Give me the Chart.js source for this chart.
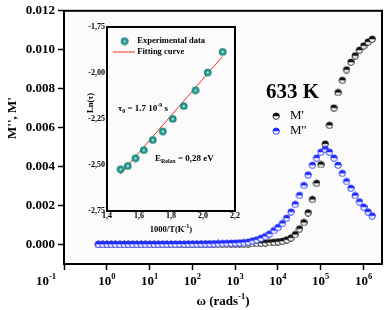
<!DOCTYPE html>
<html><head><meta charset="utf-8">
<script src="https://cdn.jsdelivr.net/npm/chart.js@4.4.1/dist/chart.umd.min.js"></script>
<style>
html,body{margin:0;padding:0;background:#fff;}
#wrap{position:relative;width:387px;height:310px;overflow:hidden;}
#main{position:absolute;left:0;top:0;}
#inset{position:absolute;left:70px;top:20px;}
</style></head><body>
<div id="wrap"><canvas id="main" width="387" height="310"></canvas><canvas id="inset" width="172" height="215"></canvas></div>
<script>
// ---------- main chart data ----------
const freq = [0.631,0.794,1,1.26,1.58,2.0,2.51,3.16,3.98,5.01,6.31,7.94,
  10,12.6,15.8,20,25.1,31.6,39.8,50.1,63.1,79.4,
  100,126,158,200,251,316,398,501,631,794,
  1000,1260,1580,2000,2510,3160,3980,5010,6310,7940,
  10000,12600,15800,20000,25100,31600,39800,50100,63100,79400,
  100000,126000,158000,200000,251000,316000,398000,501000,631000,794000,
  1000000,1260000,1580000];
const mPrime = [0.000005,0.000005,0.000005,0.000005,0.000005,0.000005,0.000005,0.000005,0.000005,0.000005,0.000005,0.000005,
  0.000006,0.000006,0.000007,0.000007,0.000008,0.000008,0.000009,0.00001,0.00001,0.000011,
  0.000012,0.000013,0.000014,0.000015,0.000017,0.000019,0.000021,0.000024,0.000027,0.00003,
  0.000034,0.000038,0.000043,0.00005,0.000057,0.000066,0.000077,0.00009,0.000105,0.000125,0.00015,
  0.00018,0.00025,0.00035,0.00052,0.00081,0.00114,0.00164,0.00232,0.00315,0.00411,0.00517,
  0.00613,0.00702,0.00781,0.00844,0.00898,0.00937,0.00970,0.00999,0.01021,0.01041,0.01055];
const mDouble = [0.00002,0.00002,0.00002,0.00002,0.00002,0.00002,0.00002,0.00002,0.00002,0.00002,0.00002,0.00002,
  0.00002,0.000021,0.000022,0.000023,0.000024,0.000025,0.000026,0.000028,0.00003,0.000032,
  0.000034,0.000036,0.000039,0.000042,0.000045,0.000049,0.000054,0.00006,0.000067,0.000075,
  0.000085,0.000097,0.00011,
  0.00013,0.00020,0.00025,0.00033,0.00042,0.00055,0.00072,0.00089,0.00109,0.00136,
  0.00168,0.00207,0.00253,0.00304,0.00358,0.00408,0.00445,0.00475,0.00489,0.00475,
  0.00445,0.00408,0.00366,0.00324,0.00290,0.00252,0.00220,0.00193,0.00168,0.00148];
const xTickValues = [0.1,1,10,100,1000,10000,100000,1000000];
const xTickExps = ['-1','0','1','2','3','4','5','6'];
const yTickValues = [0,0.002,0.004,0.006,0.008,0.010,0.012];
const seriesNames = ["M'", "M''"];

// ---------- inset data ----------
const invT = [1.483,1.528,1.576,1.628,1.684,1.747,1.809,1.878,1.951,2.027,2.121];
const lnTau = [-2.522,-2.504,-2.462,-2.418,-2.363,-2.316,-2.248,-2.179,-2.093,-1.996,-1.884];
const fitX = [1.483,2.121];
const fitY = [-2.549,-1.911];
const insetXTicks = [1.4,1.6,1.8,2.0,2.2];
const insetYTicks = [-2.75,-2.5,-2.25,-2.0,-1.75];

const SERIF = "'Liberation Serif','Times New Roman',serif";

function halfMarker(color, r){
  const c = document.createElement('canvas');
  const s = 2*r+2; c.width = s; c.height = s;
  const g = c.getContext('2d'); const m = s/2;
  g.beginPath(); g.arc(m,m,r,0,Math.PI*2); g.fillStyle='#fff'; g.fill();
  g.beginPath(); g.arc(m,m,r,Math.PI,0); g.closePath(); g.fillStyle=color; g.fill();
  g.beginPath(); g.arc(m,m,r,0,Math.PI*2); g.lineWidth=0.9; g.strokeStyle=color; g.stroke();
  return c;
}
function tealMarker(r){
  const c = document.createElement('canvas');
  const s = 2*r+2; c.width = s; c.height = s;
  const g = c.getContext('2d'); const m = s/2;
  const gr = g.createRadialGradient(m,m,0.3,m,m,r);
  gr.addColorStop(0,'#e8fff8'); gr.addColorStop(0.3,'#36a99c'); gr.addColorStop(1,'#0a766e');
  g.beginPath(); g.arc(m,m,r,0,Math.PI*2); g.fillStyle=gr; g.fill();
  return c;
}
const mkBlack = halfMarker('#111', 3.2);
const mkBlue = halfMarker('#1f2cff', 3.2);
const mkTeal = tealMarker(3.8);

function drawRich(ctx, parts, x, y, align){
  let w = 0;
  parts.forEach(p=>{ctx.font=p.f; p.w=ctx.measureText(p.t).width; w+=p.w;});
  let cx = align==='center' ? x-w/2 : (align==='right'? x-w : x);
  ctx.textAlign='left';
  parts.forEach(p=>{ctx.font=p.f; ctx.fillText(p.t, cx, y+(p.dy||0)); cx+=p.w;});
}

const mainPlugin = {
  id:'mainDeco',
  beforeDraw(chart){
    const a = chart.chartArea, ctx = chart.ctx;
    ctx.save(); ctx.fillStyle='#fbfbfb'; ctx.fillRect(a.left,a.top,a.right-a.left,a.bottom-a.top); ctx.restore();
  },
  afterDraw(chart){
    const a = chart.chartArea, ctx = chart.ctx, xs = chart.scales.x;
    ctx.save();
    ctx.strokeStyle='#000'; ctx.lineWidth=2;
    ctx.strokeRect(a.left,a.top,a.right-a.left,a.bottom-a.top);
    ctx.fillStyle='#000'; ctx.textBaseline='alphabetic';
    const fB = "bold 13px "+SERIF, fS = "bold 8.5px "+SERIF;
    xTickValues.forEach((v,i)=>{
      let px = xs.getPixelForValue(v);
      if(i===0) px -= 18;
      drawRich(ctx,[{t:'10',f:fB},{t:xTickExps[i],f:fS,dy:-6}],px,285,'center');
    });
    drawRich(ctx,[{t:'ω (rads',f:fB},{t:'-1',f:fS,dy:-6},{t:')',f:fB}],(a.left+a.right)/2,305,'center');
    ctx.save(); ctx.translate(16,118); ctx.rotate(-Math.PI/2);
    ctx.font=fB; ctx.textAlign='center'; ctx.fillText("M'', M'",0,0); ctx.restore();
    ctx.font="bold 21px "+SERIF; ctx.textAlign='left'; ctx.fillText('633 K',266,98);
    ctx.drawImage(mkBlack,276-mkBlack.width/2,116-mkBlack.height/2);
    ctx.drawImage(mkBlue,276-mkBlue.width/2,131-mkBlue.height/2);
    ctx.font="13px "+SERIF; ctx.textBaseline='middle';
    ctx.fillText(seriesNames[0],290,116); ctx.fillText(seriesNames[1],290,131);
    ctx.restore();
  }
};

new Chart(document.getElementById('main'),{
  type:'scatter',
  data:{datasets:[
    {label:seriesNames[0],data:freq.map((f,i)=>({x:f,y:mPrime[i]})),pointStyle:mkBlack,order:1},
    {label:seriesNames[1],data:freq.map((f,i)=>({x:f,y:mDouble[i]})),pointStyle:mkBlue,order:0}
  ]},
  options:{
    responsive:false,devicePixelRatio:1,animation:false,
    layout:{padding:{top:5,right:5,left:0,bottom:0}},
    plugins:{legend:{display:false},tooltip:{enabled:false}},
    scales:{
      x:{type:'logarithmic',min:0.1,max:2.7e6,
        afterBuildTicks:s=>{s.ticks=xTickValues.map(v=>({value:v}));},
        afterFit:s=>{s.height=46;},
        ticks:{display:false},
        grid:{drawOnChartArea:false,drawTicks:true,tickLength:6,tickWidth:1.5,tickColor:'#000'},
        border:{display:true,color:'#000',width:2}},
      y:{type:'linear',min:-0.001,max:0.012,
        afterBuildTicks:s=>{s.ticks=yTickValues.map(v=>({value:v}));},
        afterFit:s=>{s.width=64;},
        ticks:{color:'#000',padding:3,font:{family:SERIF,weight:'bold',size:13},callback:v=>v.toFixed(3)},
        grid:{drawOnChartArea:false,drawTicks:true,tickLength:6,tickWidth:1.5,tickColor:'#000'},
        border:{display:true,color:'#000',width:2}}
    }
  },
  plugins:[mainPlugin]
});

// ---------- inset ----------
const insetPlugin = {
  id:'insetDeco',
  beforeDraw(chart){
    const a = chart.chartArea, ctx = chart.ctx;
    ctx.save(); ctx.fillStyle='#fbfbfb'; ctx.fillRect(a.left,a.top,a.right-a.left,a.bottom-a.top); ctx.restore();
  },
  afterDraw(chart){
    const a = chart.chartArea, ctx = chart.ctx;
    const ox = 70, oy = 20;
    ctx.save();
    ctx.strokeStyle='#000'; ctx.lineWidth=2;
    ctx.strokeRect(a.left,a.top,a.right-a.left,a.bottom-a.top);
    ctx.fillStyle='#000'; ctx.textBaseline='alphabetic';
    const f = "bold 8.5px "+SERIF, fs = "bold 6px "+SERIF;
    drawRich(ctx,[{t:'1000/T(K',f:f},{t:'-1',f:fs,dy:-4},{t:')',f:f}],(a.left+a.right)/2,232-oy,'center');
    ctx.save(); ctx.translate(93-ox,103-oy); ctx.rotate(-Math.PI/2);
    ctx.font=f; ctx.textAlign='center'; ctx.fillText('Ln(τ)',0,0); ctx.restore();
    ctx.drawImage(mkTeal,124.3-ox-mkTeal.width/2,41-oy-mkTeal.height/2);
    ctx.strokeStyle='#f0302a'; ctx.lineWidth=1;
    ctx.beginPath(); ctx.moveTo(112.7-ox,52-oy); ctx.lineTo(135-ox,52-oy); ctx.stroke();
    ctx.font=f; ctx.textBaseline='middle'; ctx.textAlign='left';
    ctx.fillText('Experimental data',137.3-ox,41-oy);
    ctx.fillText('Fitting curve',137.3-ox,52-oy);
    ctx.textBaseline='alphabetic';
    const f9 = "bold 9px "+SERIF, f6 = "bold 6px "+SERIF;
    drawRich(ctx,[{t:'τ',f:f9},{t:'0',f:f6,dy:2},{t:' = 1.7 10',f:f9},{t:'-9',f:f6,dy:-4},{t:' s',f:f9}],118-ox,111-oy,'left');
    drawRich(ctx,[{t:'E',f:f9},{t:'Relax',f:f6,dy:2},{t:' = 0,28 eV',f:f9}],155-ox,161-oy,'left');
    ctx.restore();
  }
};

new Chart(document.getElementById('inset'),{
  type:'scatter',
  data:{datasets:[
    {label:'Experimental data',data:invT.map((v,i)=>({x:v,y:lnTau[i]})),pointStyle:mkTeal,order:0},
    {label:'Fitting curve',data:fitX.map((v,i)=>({x:v,y:fitY[i]})),showLine:true,pointRadius:0,borderColor:'#f0302a',borderWidth:1,order:1}
  ]},
  options:{
    responsive:false,devicePixelRatio:1,animation:false,
    layout:{padding:{top:7,right:7,left:0,bottom:0}},
    plugins:{legend:{display:false},tooltip:{enabled:false}},
    scales:{
      x:{type:'linear',min:1.4,max:2.2,
        afterBuildTicks:s=>{s.ticks=insetXTicks.map(v=>({value:v}));},
        afterFit:s=>{s.height=24;},
        ticks:{color:'#000',padding:0,maxRotation:0,font:{family:SERIF,weight:'bold',size:8},callback:v=>v.toFixed(1).replace('.',',')},
        grid:{display:true,drawOnChartArea:false,drawTicks:false},
        border:{display:true,color:'#000',width:2}},
      y:{type:'linear',min:-2.75,max:-1.75,
        afterBuildTicks:s=>{s.ticks=insetYTicks.map(v=>({value:v}));},
        afterFit:s=>{s.width=37;},
        ticks:{color:'#000',padding:2,font:{family:SERIF,weight:'bold',size:8},callback:v=>v.toFixed(2).replace('.',',')},
        grid:{display:true,drawOnChartArea:false,drawTicks:false},
        border:{display:true,color:'#000',width:2}}
    }
  },
  plugins:[insetPlugin]
});
</script>
</body></html>
